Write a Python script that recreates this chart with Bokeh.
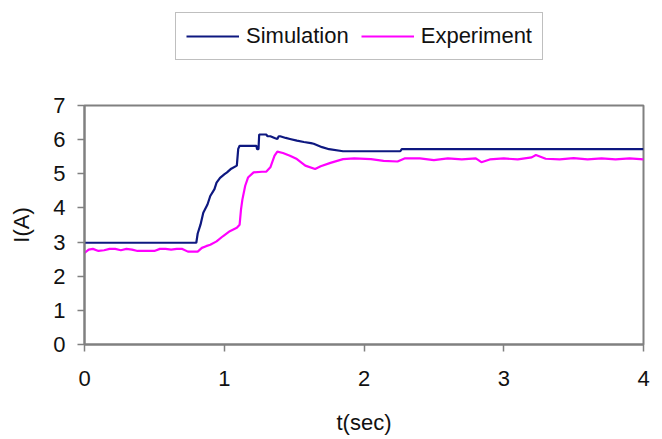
from bokeh.plotting import figure
from bokeh.layouts import column
from bokeh.models import FixedTicker, Legend, LegendItem, Range1d
from bokeh.embed import file_html
from bokeh.resources import INLINE

# ---- data ----
sim_t = [0, 0.80, 0.81, 0.83, 0.85, 0.88, 0.90, 0.93, 0.945, 0.97, 1.00, 1.02, 1.05, 1.09,
         1.10, 1.11, 1.23, 1.235, 1.245, 1.25, 1.30, 1.31, 1.33, 1.36, 1.38, 1.39, 1.40,
         1.44, 1.47, 1.52, 1.57, 1.62, 1.64, 1.70, 1.75, 1.85, 2.26, 2.27, 4.0]
sim_I = [2.98, 2.98, 3.25, 3.51, 3.86, 4.10, 4.35, 4.55, 4.74, 4.88, 4.98, 5.04, 5.15, 5.24,
         5.73, 5.82, 5.82, 5.72, 5.72, 6.15, 6.15, 6.10, 6.10, 6.05, 6.02, 6.10, 6.10,
         6.05, 6.02, 5.97, 5.93, 5.90, 5.88, 5.78, 5.72, 5.66, 5.66, 5.72, 5.72]

exp_t = [0, 0.03, 0.06, 0.10, 0.14, 0.18, 0.22, 0.26, 0.30, 0.34, 0.38, 0.42, 0.46, 0.50,
         0.54, 0.58, 0.62, 0.66, 0.70, 0.74, 0.78, 0.81, 0.84, 0.87, 0.90, 0.945, 0.99,
         1.04, 1.09, 1.11, 1.12, 1.13, 1.15, 1.17, 1.21, 1.27, 1.30, 1.33, 1.36, 1.38,
         1.42, 1.47, 1.52, 1.58, 1.65, 1.69, 1.76, 1.85, 1.93, 2.05, 2.14, 2.24, 2.29,
         2.40, 2.50, 2.60, 2.70, 2.80, 2.84, 2.90, 3.00, 3.10, 3.20, 3.23, 3.30, 3.40,
         3.50, 3.60, 3.70, 3.80, 3.90, 4.0]
exp_I = [2.68, 2.78, 2.80, 2.74, 2.76, 2.80, 2.80, 2.76, 2.80, 2.78, 2.74, 2.74, 2.74, 2.74,
         2.80, 2.80, 2.78, 2.80, 2.80, 2.72, 2.72, 2.72, 2.83, 2.88, 2.92, 3.02, 3.17,
         3.32, 3.42, 3.51, 3.96, 4.25, 4.65, 4.89, 5.04, 5.06, 5.06, 5.19, 5.53, 5.65,
         5.61, 5.53, 5.43, 5.24, 5.14, 5.22, 5.32, 5.43, 5.45, 5.43, 5.38, 5.36, 5.45,
         5.45, 5.40, 5.45, 5.42, 5.45, 5.34, 5.42, 5.45, 5.42, 5.48, 5.55, 5.44, 5.42,
         5.46, 5.42, 5.45, 5.42, 5.45, 5.42]

x_ticks = [0, 1, 2, 3, 4]
y_ticks = [0, 1, 2, 3, 4, 5, 6, 7]
series_names = ["Simulation", "Experiment"]

FONT = "Liberation Sans"
GRAY = "#808080"
TXT = "#111111"
SIM_COLOR = "#0e1880"
EXP_COLOR = "#ff00ff"

# ---------- legend strip (top) ----------
leg_fig = figure(width=654, height=80, output_backend="svg", toolbar_location=None,
                 x_range=Range1d(0, 4), y_range=Range1d(0, 7),
                 x_axis_type=None, y_axis_type=None, min_border=0)
leg_fig.outline_line_color = None
leg_fig.grid.visible = False
l_sim = leg_fig.line(sim_t, sim_I, line_color=SIM_COLOR, line_width=2.2, visible=False)
l_exp = leg_fig.line(exp_t, exp_I, line_color=EXP_COLOR, line_width=2.2, visible=False)

legend = Legend(items=[LegendItem(label=series_names[0], renderers=[l_sim]),
                       LegendItem(label=series_names[1], renderers=[l_exp])],
                orientation="horizontal", location=(91, 20))
legend.border_line_color = GRAY
legend.border_line_width = 1.5
legend.background_fill_alpha = 1
legend.label_text_font = FONT
legend.label_text_font_size = "22px"
legend.label_text_color = TXT
legend.glyph_width = 53
legend.label_standoff = 7
legend.spacing = 12
legend.padding = 10
legend.margin = 0
leg_fig.add_layout(legend, "center")

# ---------- main chart ----------
p = figure(width=654, height=357, output_backend="svg", toolbar_location=None,
           x_range=Range1d(0, 4), y_range=Range1d(0, 7),
           min_border_left=84, min_border_right=11, min_border_top=25, min_border_bottom=93)
p.background_fill_color = "white"
p.border_fill_color = "white"
p.outline_line_color = GRAY
p.outline_line_width = 2
p.grid.visible = False

for ax in (p.xaxis[0], p.yaxis[0]):
    ax.axis_line_color = GRAY
    ax.axis_line_width = 2
    ax.major_tick_line_color = GRAY
    ax.major_tick_line_width = 1.5
    ax.major_tick_in = 0
    ax.major_tick_out = 7
    ax.minor_tick_line_color = None
    ax.major_label_text_font = FONT
    ax.major_label_text_font_size = "22px"
    ax.major_label_text_color = TXT
    ax.axis_label_text_font = FONT
    ax.axis_label_text_font_size = "22px"
    ax.axis_label_text_font_style = "normal"
    ax.axis_label_text_color = TXT

p.xaxis.ticker = FixedTicker(ticks=x_ticks)
p.yaxis.ticker = FixedTicker(ticks=y_ticks)
p.xaxis.axis_label = "t(sec)"
p.yaxis.axis_label = "I(A)"
p.xaxis.major_label_standoff = 19
p.yaxis.major_label_standoff = 12
p.xaxis.axis_label_standoff = 21
p.yaxis.axis_label_standoff = 16

p.line(sim_t, sim_I, line_color=SIM_COLOR, line_width=2.2)
p.line(exp_t, exp_I, line_color=EXP_COLOR, line_width=2.2)

layout = column(leg_fig, p, spacing=0)
open("out.html", "w").write(file_html(layout, INLINE))
